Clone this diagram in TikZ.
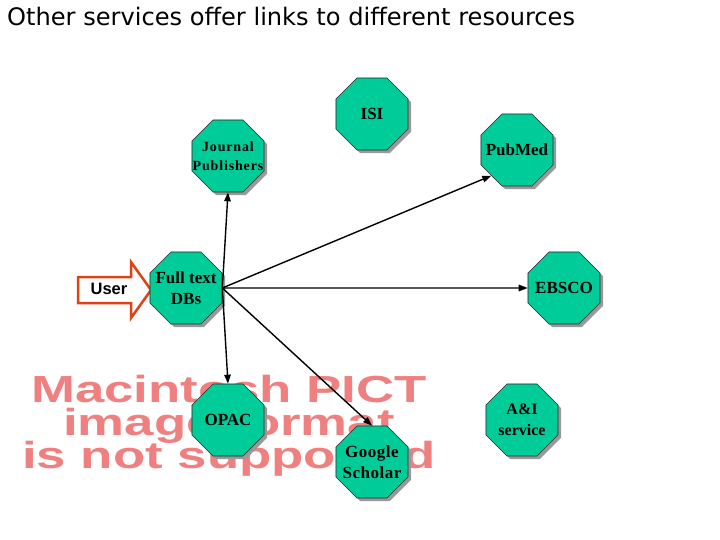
\documentclass[tikz,border=0pt]{standalone}
\usepackage{fontspec}
\setmainfont{Liberation Serif}
\newfontfamily\titlefont{DejaVu Sans}
\newfontfamily\arialfont{Liberation Sans}
\newfontfamily\jpfont[LetterSpace=6]{Liberation Serif}
\newfontfamily\gsfont[LetterSpace=3]{Liberation Serif}
\usetikzlibrary{shapes.geometric,shadows,arrows.meta}
\definecolor{octfill}{HTML}{00CC99}
\definecolor{pictred}{HTML}{F08080}
\definecolor{userred}{HTML}{DD4411}
\newcommand{\zw}[1]{\makebox[0pt]{#1}}
\begin{document}
\begin{tikzpicture}[x=1pt,y=-1pt,
  oct/.style={regular polygon, regular polygon sides=8, minimum size=78pt, inner sep=0pt,
    fill=octfill, draw=black!85, line width=0.6pt,
    drop shadow={shadow xshift=3pt, shadow yshift=-3pt, fill=black!40, opacity=1},
    font=\bfseries\fontsize{17}{20.5}\selectfont, align=center, text=black},
  link/.style={-{Triangle[length=9pt,width=6.5pt]}, line width=1.4pt, black},
  pict/.style={font=\arialfont\bfseries\fontsize{37.7}{38}\selectfont, text=pictred,
    xscale=1.4, inner sep=0pt, anchor=base}]
\fill[white] (0,0) rectangle (720,540);
\useasboundingbox (0,0) rectangle (720,540);

\node[anchor=base west, inner sep=0pt, font=\titlefont\fontsize{24.1}{26}\selectfont] (title) at (7,26) {Other services offer links to different resources};

\node[pict] (pict1) at (229,402) {Macintosh PICT};
\node[pict] (pict2) at (229,435) {image format};
\node[pict] (pict3) at (229,468) {is not supported};

\draw[userred, line width=2.5pt, fill=white, line join=miter]
  (78,277) -- (131,277) -- (131,262) -- (151,290) -- (131,318) -- (131,303) -- (78,303) -- cycle;
\node[font=\arialfont\bfseries\fontsize{16.5}{18}\selectfont, inner sep=0pt] (user) at (109,289) {User};

\node[oct] (isi) at (372,114) {\zw{ISI}};
\node[oct, font=\jpfont\bfseries\fontsize{14}{18.5}\selectfont] (jp) at (228,156) {\zw{Journal}\\\zw{Publishers}};
\node[oct] (pubmed) at (517,150) {\zw{PubMed}};
\node[oct] (dbs) at (186,288) {\zw{Full text}\\\zw{DBs}};
\node[oct] (ebsco) at (564,288) {\zw{EBSCO}};
\node[oct] (opac) at (228,420) {\zw{OPAC}};
\node[oct, font=\gsfont\bfseries\fontsize{17}{21}\selectfont] (gs) at (372,462) {\zw{Google}\\\zw{Scholar}};
\node[oct, font=\bfseries\fontsize{16}{20.5}\selectfont] (ai) at (522,420) {\zw{A\&I}\\\zw{service}};

\draw[link] (dbs.east) -- (jp.south);
\draw[link] (dbs.east) -- (opac.north);
\draw[link] (dbs.east) -- (gs.north);
\draw[link] (dbs.east) -- (ebsco.west);
\draw[link] (dbs.east) -- (pubmed.-135);
\end{tikzpicture}
\end{document}
